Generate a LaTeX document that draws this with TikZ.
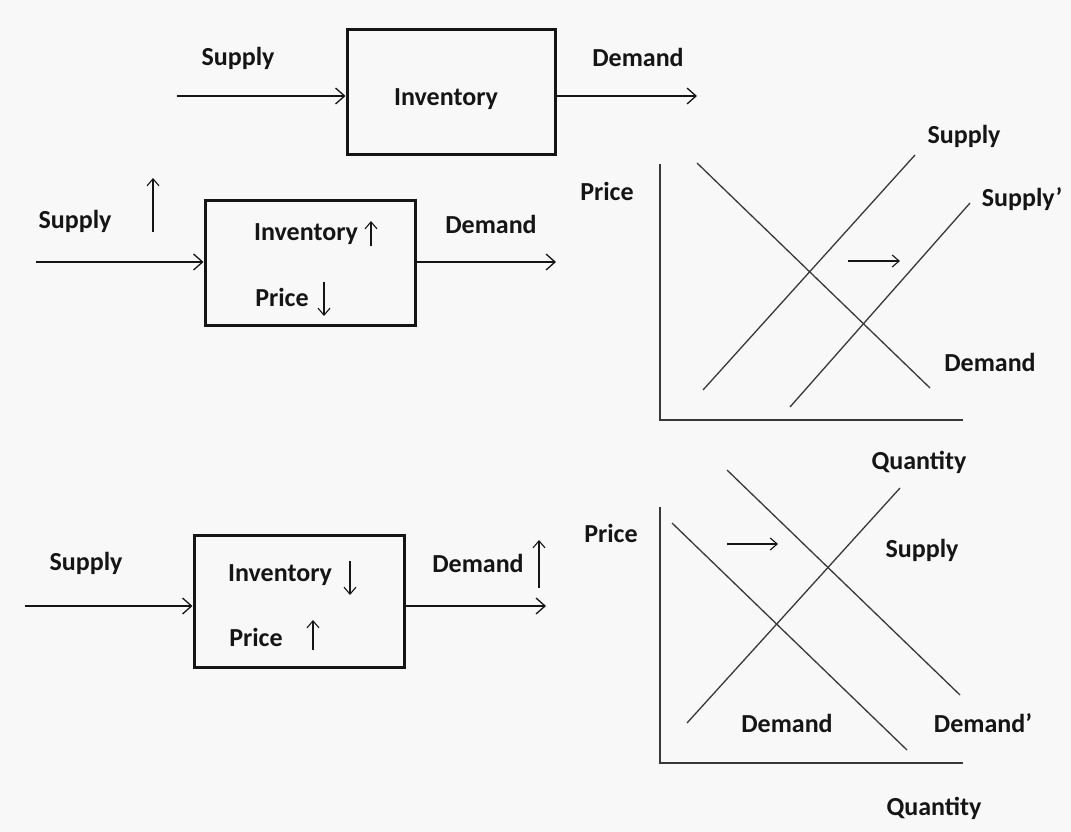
\documentclass[tikz,border=0pt]{standalone}
\usepackage{fontspec}
\setmainfont{Carlito}
\usetikzlibrary{arrows.meta}
\definecolor{bgc}{HTML}{F8F8F8}
\definecolor{ink}{HTML}{151515}
\tikzset{
  lbl/.style={font=\fontsize{26}{29}\selectfont\bfseries, text=ink, inner sep=0pt},
  flowbox/.style={draw=ink, line width=3pt, inner sep=0pt},
  flow/.style={draw=ink, line width=1.3pt, -{Straight Barb[length=9pt,width=16pt,line width=1.3pt]}},
  tick/.style={draw=ink, line width=1.1pt, -{Straight Barb[length=7pt,width=12pt,line width=1.1pt]}},
  curve/.style={draw=ink!85, line width=1.3pt},
  axis/.style={draw=ink!85, line width=1.8pt},
}
\begin{document}
\begin{tikzpicture}[x=1pt,y=-1pt]
\useasboundingbox (0,0) rectangle (1071,832);
\fill[bgc] (0,0) rectangle (1071,832);

% ---------- Top flow ----------
\node[flowbox, minimum width=208pt, minimum height=125pt] (b1) at (451,92.5) {};
\node[lbl] (b1t) at (446,99) {Inventory};
\coordinate (s1) at (177,96);
\coordinate (d1) at (697,96);
\draw[flow] (s1) -- (s1 -| b1.west);
\draw[flow] (d1 -| b1.east) -- (d1);
\node[lbl] (s1l) at (238,58) {Supply};
\node[lbl] (d1l) at (638,57) {Demand};

% ---------- Middle flow ----------
\node[flowbox, minimum width=210pt, minimum height=125pt] (b2) at (310,262.5) {};
\node[lbl] (b2i) at (306,234) {Inventory};
\node[lbl] (b2p) at (282,297) {Price};
\coordinate (s2) at (36,262);
\coordinate (d2) at (556,262);
\draw[flow] (s2) -- (s2 -| b2.west);
\draw[flow] (d2 -| b2.east) -- (d2);
\node[lbl] (s2l) at (75,221) {Supply};
\node[lbl] (d2l) at (491,224) {Demand};
\coordinate (u2a) at (153,232); \coordinate (u2b) at (153,178);
\draw[tick] (u2a) -- (u2b);
\coordinate (u2c) at (371,246); \coordinate (u2d) at (371,221);
\draw[tick] (u2c) -- (u2d);
\coordinate (u2e) at (324,282); \coordinate (u2f) at (324,316);
\draw[tick] (u2e) -- (u2f);

% ---------- Bottom flow ----------
\node[flowbox, minimum width=210pt, minimum height=132pt] (b3) at (299,601) {};
\node[lbl] (b3i) at (280,575) {Inventory};
\node[lbl] (b3p) at (256,637) {Price};
\coordinate (s3) at (25,606);
\coordinate (d3) at (546,606);
\draw[flow] (s3) -- (s3 -| b3.west);
\draw[flow] (d3 -| b3.east) -- (d3);
\node[lbl] (s3l) at (86,563) {Supply};
\node[lbl] (d3l) at (478,563) {Demand};
\coordinate (u3a) at (350,561); \coordinate (u3b) at (350,595);
\draw[tick] (u3a) -- (u3b);
\coordinate (u3c) at (313,650); \coordinate (u3d) at (313,620);
\draw[tick] (u3c) -- (u3d);
\coordinate (u3e) at (539,588); \coordinate (u3f) at (539,540);
\draw[tick] (u3e) -- (u3f);

% ---------- Graph 1 ----------
\coordinate (o1) at (660,420);
\coordinate (y1) at (660,164);
\coordinate (x1) at (963,420);
\draw[axis] (y1) -- (o1) -- (x1);
\coordinate (g1d1) at (697,163); \coordinate (g1d2) at (930,388);
\draw[curve] (g1d1) -- (g1d2);
\coordinate (g1s1) at (703,390); \coordinate (g1s2) at (915,155);
\draw[curve] (g1s1) -- (g1s2);
\coordinate (g1p1) at (790,407); \coordinate (g1p2) at (970,203);
\draw[curve] (g1p1) -- (g1p2);
\coordinate (g1a1) at (848,261); \coordinate (g1a2) at (900,261);
\draw[tick] (g1a1) -- (g1a2);
\node[lbl] (g1pr) at (607,191) {Price};
\node[lbl] (g1sl) at (964,136) {Supply};
\node[lbl] (g1spl) at (1022,199) {Supply’};
\node[lbl] (g1dl) at (990,362) {Demand};
\node[lbl] (g1q) at (919,462) {Quantity};

% ---------- Graph 2 ----------
\coordinate (o2) at (660,763);
\coordinate (y2) at (660,507);
\coordinate (x2) at (963,763);
\draw[axis] (y2) -- (o2) -- (x2);
\coordinate (g2d1) at (672,523); \coordinate (g2d2) at (907,750);
\draw[curve] (g2d1) -- (g2d2);
\coordinate (g2p1) at (727,470); \coordinate (g2p2) at (960,695);
\draw[curve] (g2p1) -- (g2p2);
\coordinate (g2s1) at (687,723); \coordinate (g2s2) at (900,488);
\draw[curve] (g2s1) -- (g2s2);
\coordinate (g2a1) at (727,544); \coordinate (g2a2) at (778,544);
\draw[tick] (g2a1) -- (g2a2);
\node[lbl] (g2pr) at (611,533) {Price};
\node[lbl] (g2sl) at (922,550) {Supply};
\node[lbl] (g2dl) at (787,723) {Demand};
\node[lbl] (g2dpl) at (983,723) {Demand’};
\node[lbl] (g2q) at (934,808) {Quantity};
\end{tikzpicture}
\end{document}
